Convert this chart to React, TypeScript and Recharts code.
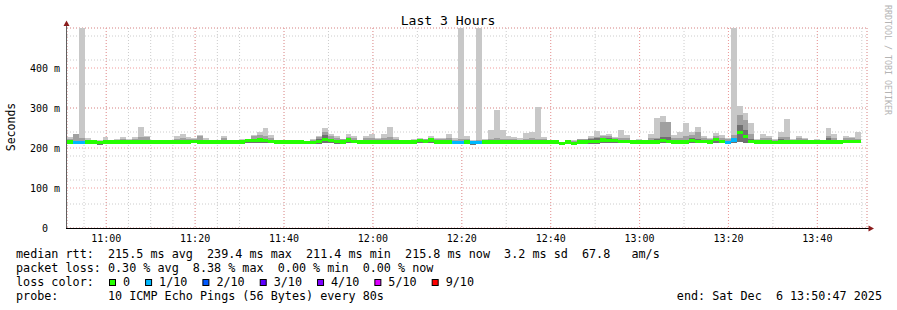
import React from "react";
import { ComposedChart, Bar, Cell, XAxis, YAxis, CartesianGrid } from "recharts";

const W = 897;
const H = 310;
const MONO = "'DejaVu Sans Mono', monospace";

// time axis in minutes after 10:00 (last 3 hours, 80s steps)
const T_START = 51.17;
const T_END = 231.17;
const STEP_MIN = 80 / 60;
const HOUR_TICKS = [60, 80, 100, 120, 140, 160, 180, 200, 220];
const HOUR_LABELS = ["11:00", "11:20", "11:40", "12:00", "12:20", "12:40", "13:00", "13:20", "13:40"];

const Y_TICKS = [0, 100, 200, 300, 400];
const Y_LABELS = ["0  ", "100 m", "200 m", "300 m", "400 m"];

// one entry per 80s step, values in ms
const MEDIAN_MS = [
  215, 214, 214, 215, 215, 214, 215, 215, 215, 215,
  215, 215, 215, 215, 215, 215, 215, 215, 215, 215,
  215, 217, 215, 215, 215, 215, 215, 215, 215, 215,
  218, 219, 220, 219, 216, 215, 215, 215, 215, 215,
  214, 214, 217, 222, 218, 216, 215, 220, 217, 215,
  215, 215, 215, 215, 215, 215, 215, 215, 215, 218,
  216, 220, 215, 215, 215, 214, 214, 215, 213, 213,
  215, 215, 215, 215, 215, 215, 215, 215, 215, 215,
  215, 215, 215, 211, 215, 211, 215, 215, 216, 217,
  220, 218, 218, 216, 217, 215, 215, 215, 215, 215,
  218, 217, 215, 215, 215, 219, 216, 216, 215, 222,
  216, 214, 220, 239, 228, 217, 215, 215, 215, 214,
  215, 215, 215, 215, 215, 215, 215, 215, 215, 215,
  215, 216, 216, 216, null,
];

const SMOKE_LOW_MS = [
  212, 211, 211, 212, 212, 208, 212, 212, 212, 212,
  212, 212, 212, 212, 212, 212, 210, 212, 212, 212,
  212, 212, 212, 212, 212, 212, 212, 212, 212, 212,
  212, 212, 213, 212, 212, 212, 212, 212, 212, 212,
  211, 211, 211, 212, 212, 211, 211, 212, 212, 212,
  211, 211, 212, 211, 212, 212, 212, 212, 212, 212,
  212, 212, 212, 212, 212, 211, 211, 212, 208, 210,
  212, 212, 212, 212, 212, 212, 212, 212, 212, 212,
  212, 212, 213, 209, 213, 209, 211, 212, 211, 211,
  212, 212, 212, 212, 212, 212, 212, 213, 212, 212,
  212, 212, 212, 211, 212, 212, 212, 212, 212, 212,
  212, 211, 212, 214, 213, 212, 212, 212, 212, 211,
  212, 212, 212, 212, 212, 212, 212, 212, 212, 212,
  212, 212, 212, 212, null,
];

const SMOKE_DARK_MS = [
  218, 218, 218, 218, 217, 216, 217, 217, 218, 218,
  218, 218, 220, 220, 218, 217, 216, 217, 218, 218,
  218, 219, 220, 218, 217, 217, 219, 217, 217, 218,
  220, 222, 225, 223, 219, 217, 217, 217, 217, 217,
  216, 217, 222, 232, 222, 220, 220, 222, 220, 217,
  218, 218, 218, 219, 220, 218, 217, 217, 217, 220,
  219, 225, 218, 218, 219, 217, 217, 218, 216, 216,
  218, 218, 219, 218, 218, 218, 218, 218, 219, 218,
  218, 217, 215, 213, 215, 214, 220, 219, 222, 224,
  226, 226, 222, 220, 220, 217, 218, 215, 220, 222,
  228, 228, 218, 220, 220, 224, 222, 219, 218, 226,
  220, 218, 226, 258, 245, 222, 218, 219, 218, 217,
  222, 220, 218, 218, 218, 217, 218, 217, 226, 219,
  217, 220, 219, 218, null,
];

const SMOKE_MID_MS = [
  222, 234, 226, 220, 219, 218, 220, 219, 220, 222,
  220, 222, 228, 228, 220, 219, 216, 218, 222, 224,
  222, 222, 230, 220, 219, 219, 226, 219, 219, 220,
  222, 230, 232, 230, 224, 219, 219, 219, 219, 218,
  216, 220, 228, 240, 230, 226, 222, 228, 224, 219,
  224, 224, 222, 226, 228, 222, 218, 219, 220, 222,
  222, 226, 222, 222, 224, 220, 222, 222, 218, 220,
  220, 222, 224, 222, 222, 222, 220, 222, 224, 222,
  222, 218, 215, 215, 215, 218, 222, 222, 226, 228,
  230, 230, 226, 225, 224, 219, 220, 216, 226, 226,
  266, 266, 224, 226, 230, 232, 240, 224, 222, 230,
  226, 222, 232, 282, 270, 235, 220, 226, 224, 220,
  228, 228, 220, 224, 222, 219, 220, 219, 230, 224,
  219, 226, 224, 222, null,
];

const SMOKE_MAX_MS = [
  228, 234, 560, 225, 220, 220, 228, 220, 223, 228,
  222, 228, 253, 230, 220, 220, 216, 218, 230, 235,
  228, 224, 232, 224, 220, 220, 229, 220, 220, 222,
  222, 232, 241, 251, 232, 220, 221, 220, 220, 218,
  216, 222, 230, 250, 235, 230, 222, 235, 230, 220,
  230, 235, 225, 235, 252, 228, 218, 220, 222, 224,
  222, 230, 224, 224, 235, 225, 560, 230, 220, 560,
  222, 245, 295, 245, 230, 228, 225, 237, 240, 302,
  228, 218, 215, 216, 215, 220, 222, 222, 230, 242,
  232, 235, 228, 245, 232, 220, 222, 216, 235, 275,
  280, 266, 232, 240, 263, 240, 252, 230, 226, 238,
  232, 226, 560, 305, 288, 262, 222, 235, 230, 222,
  240, 272, 222, 230, 225, 220, 222, 220, 250, 235,
  220, 230, 228, 240, null,
];

// lost pings out of 10 per step
const LOSS_OF_10 = [
  0, 1, 1, 0, 0, 0, 0, 0, 0, 0,
  0, 0, 0, 0, 0, 0, 0, 0, 0, 0,
  0, 0, 0, 0, 0, 0, 0, 0, 0, 0,
  0, 0, 0, 0, 0, 0, 0, 0, 0, 0,
  0, 0, 0, 0, 0, 0, 0, 0, 0, 0,
  0, 0, 0, 0, 0, 0, 0, 0, 0, 0,
  0, 0, 0, 0, 0, 1, 1, 0, 1, 1,
  0, 0, 0, 0, 0, 0, 0, 0, 0, 0,
  0, 0, 0, 0, 0, 0, 0, 0, 0, 0,
  0, 0, 0, 0, 0, 0, 0, 0, 0, 0,
  0, 0, 0, 0, 0, 0, 0, 0, 0, 0,
  0, 1, 1, 0, 0, 0, 0, 0, 0, 0,
  0, 0, 0, 0, 0, 0, 0, 0, 0, 0,
  0, 0, 0, 0, 0,
];

const LOSS_KEYS = [0, 1, 2, 3, 4, 5, 9];
const LOSS_LABELS = ["0", "1/10", "2/10", "3/10", "4/10", "5/10", "9/10"];
const LOSS_COLORS = ["#26ff00", "#00b8ff", "#0059ff", "#5e00ff", "#7e00ff", "#dd00ff", "#ff0000"];

const lossColor = (n: number) => {
  let c = LOSS_COLORS[0];
  LOSS_KEYS.forEach((k, i) => {
    if (n >= k) c = LOSS_COLORS[i];
  });
  return c;
};

const MINOR_X: number[] = [];
for (let t = 55; t <= 230; t += 5) MINOR_X.push(t);
const MINOR_Y: number[] = [];
for (let v = 20; v <= 480; v += 20) MINOR_Y.push(v);

const LEGEND_RTT = "median rtt:  215.5 ms avg  239.4 ms max  211.4 ms min  215.8 ms now  3.2 ms sd  67.8   am/s";
const LEGEND_LOSS = "packet loss: 0.30 % avg  8.38 % max  0.00 % min  0.00 % now";
const LEGEND_PROBE = "probe:       10 ICMP Echo Pings (56 Bytes) every 80s";
const LEGEND_END = "end: Sat Dec  6 13:50:47 2025";

// svg collapses runs of spaces, so keep them as nbsp
const keepSpaces = (s: string) => s.replace(/ /g, "\u00a0");

const XTick = (props: any) => {
  const { x, y, payload } = props;
  const label = HOUR_LABELS[HOUR_TICKS.indexOf(payload.value)];
  return (
    <text x={x} y={y + 14} textAnchor="middle" fontFamily={MONO} fontSize={10} fill="#000">
      {label}
    </text>
  );
};

const YTick = (props: any) => {
  const { x, y, payload } = props;
  const label = Y_LABELS[Y_TICKS.indexOf(payload.value)];
  return (
    <text x={x} y={y + 3.5} textAnchor="end" fontFamily={MONO} fontSize={10} fill="#000">
      {keepSpaces(label)}
    </text>
  );
};

export default function App() {
  const rows = MEDIAN_MS.map((m, i) => {
    const t = T_START + (i + 0.5) * STEP_MIN;
    if (m === null) return { slot: i, t };
    const lo = SMOKE_LOW_MS[i] as number;
    const dk = SMOKE_DARK_MS[i] as number;
    const md = SMOKE_MID_MS[i] as number;
    const hi = SMOKE_MAX_MS[i] as number;
    return {
      slot: i,
      t,
      base: lo,
      dark: dk - lo,
      mid: md - dk,
      light: hi - md,
      medBase: m - 4,
      medBand: 8,
      loss: LOSS_OF_10[i],
    };
  });

  let lx = 109;
  const lossItems = LOSS_LABELS.map((label, i) => {
    const item = { x: lx, label, color: LOSS_COLORS[i] };
    lx += 14 + 7.08 * label.length + 15;
    return item;
  });

  return (
    <div style={{ position: "absolute", left: 0, top: 0, width: W, height: H, background: "#fff" }}>
      <style>{`.recharts-bar-rectangle path{shape-rendering:crispEdges}`}</style>
      <ComposedChart
        width={W}
        height={H}
        data={rows}
        margin={{ top: 28, right: 30, bottom: 52, left: 0 }}
        barCategoryGap={0}
        barGap={0}
        barSize={5.92}
      >
        <XAxis
          xAxisId="time"
          dataKey="t"
          type="number"
          domain={[T_START, T_END]}
          ticks={HOUR_TICKS}
          interval={0}
          height={30}
          axisLine={false}
          tickLine={false}
          tickSize={0}
          tickMargin={0}
          tick={<XTick />}
          allowDataOverflow
        />
        <YAxis
          yAxisId="ms"
          domain={[0, 500]}
          ticks={Y_TICKS}
          interval={0}
          width={67}
          axisLine={false}
          tickLine={false}
          tickSize={0}
          tickMargin={7}
          tick={<YTick />}
          allowDataOverflow
        />
        <XAxis xAxisId="smoke" dataKey="slot" type="category" hide height={0} />
        <XAxis xAxisId="median" dataKey="slot" type="category" hide height={0} />
        <XAxis
          xAxisId="minor"
          dataKey="t"
          type="number"
          domain={[T_START, T_END]}
          ticks={MINOR_X}
          hide
          height={0}
          allowDataOverflow
        />
        <YAxis yAxisId="minor" domain={[0, 500]} ticks={MINOR_Y} hide width={0} allowDataOverflow />

        <CartesianGrid xAxisId="minor" yAxisId="minor" stroke="#cccccc" strokeDasharray="1 2" />
        <CartesianGrid xAxisId="time" yAxisId="ms" stroke="#f09a9a" strokeDasharray="1 2" />

        <Bar xAxisId="smoke" yAxisId="ms" stackId="smoke" dataKey="base" fill="transparent" isAnimationActive={false} />
        <Bar xAxisId="smoke" yAxisId="ms" stackId="smoke" dataKey="dark" fill="#707070" isAnimationActive={false} />
        <Bar xAxisId="smoke" yAxisId="ms" stackId="smoke" dataKey="mid" fill="#a0a0a0" isAnimationActive={false} />
        <Bar xAxisId="smoke" yAxisId="ms" stackId="smoke" dataKey="light" fill="#c8c8c8" isAnimationActive={false} />

        <Bar xAxisId="median" yAxisId="ms" stackId="median" dataKey="medBase" fill="transparent" isAnimationActive={false} />
        <Bar xAxisId="median" yAxisId="ms" stackId="median" dataKey="medBand" isAnimationActive={false}>
          {rows.map((r: any) => (
            <Cell key={r.slot} fill={lossColor(r.loss ?? 0)} />
          ))}
        </Bar>
      </ComposedChart>

      <svg
        width={W}
        height={H}
        style={{ position: "absolute", left: 0, top: 0, pointerEvents: "none" }}
        fontFamily={MONO}
      >
        <text x={448} y={24.5} textAnchor="middle" fontSize={13.1} fill="#000">
          {keepSpaces("Last 3 Hours")}
        </text>
        <text transform="translate(15,127) rotate(-90)" textAnchor="middle" fontSize={11.5} fill="#000">
          Seconds
        </text>
        <text transform="translate(884.5,5) rotate(90)" fontSize={8.3} fill="#b4b4b4">
          {keepSpaces("RRDTOOL / TOBI OETIKER")}
        </text>

        <line x1={66.5} y1={25} x2={66.5} y2={229} stroke="#606060" />
        <line x1={66} y1={228.5} x2={870} y2={228.5} stroke="#000" />
        <polygon points="63.5,26 66.5,20.5 69.5,26" fill="#8b1c1c" />
        <polygon points="868.5,225.5 874,228.5 868.5,231.5" fill="#8b1c1c" />

        <g fontSize={11.75} fill="#000">
          <text x={16} y={257.5}>{keepSpaces(LEGEND_RTT)}</text>
          <text x={16} y={271.5}>{keepSpaces(LEGEND_LOSS)}</text>
          <text x={16} y={285.5}>{keepSpaces("loss color:")}</text>
          {lossItems.map((it) => (
            <g key={it.label}>
              <rect x={it.x + 0.5} y={279.5} width={6} height={6} fill={it.color} stroke="#000" />
              <text x={it.x + 14} y={285.5}>{it.label}</text>
            </g>
          ))}
          <text x={16} y={299.5}>{keepSpaces(LEGEND_PROBE)}</text>
          <text x={882} y={299.5} textAnchor="end">{keepSpaces(LEGEND_END)}</text>
        </g>
      </svg>
    </div>
  );
}
